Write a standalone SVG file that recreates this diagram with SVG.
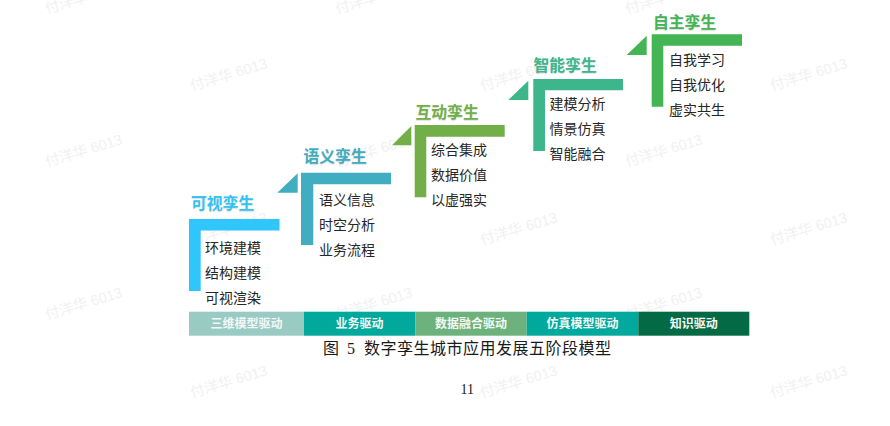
<svg xmlns="http://www.w3.org/2000/svg" width="890" height="426" viewBox="0 0 890 426">
<style>
text{font-family:"Noto Sans CJK SC","Noto Sans",sans-serif}
.wm{font-family:"Liberation Sans","Noto Sans CJK SC",sans-serif;font-size:14.500px;fill:#f1f1f1}
.title{font-size:15.800px;font-weight:700;text-shadow:0 1px 1px rgba(120,120,120,.25)}
.item{font-size:14px;fill:#262626}
.drv{font-size:12px;font-weight:700;fill:#f2f8f5;text-anchor:middle}
.cap{font-size:16px;fill:#1a1a1a}
</style>
<rect width="890" height="426" fill="#fff"/>
<g id="watermarks">
<text class="wm" transform="translate(47,14) rotate(-17)">付洋华 6013</text>
<text class="wm" transform="translate(47,167) rotate(-17)">付洋华 6013</text>
<text class="wm" transform="translate(47,320) rotate(-17)">付洋华 6013</text>
<text class="wm" transform="translate(192,91) rotate(-17)">付洋华 6013</text>
<text class="wm" transform="translate(192,245) rotate(-17)">付洋华 6013</text>
<text class="wm" transform="translate(192,398) rotate(-17)">付洋华 6013</text>
<text class="wm" transform="translate(337,14) rotate(-17)">付洋华 6013</text>
<text class="wm" transform="translate(337,167) rotate(-17)">付洋华 6013</text>
<text class="wm" transform="translate(337,320) rotate(-17)">付洋华 6013</text>
<text class="wm" transform="translate(482,91) rotate(-17)">付洋华 6013</text>
<text class="wm" transform="translate(482,245) rotate(-17)">付洋华 6013</text>
<text class="wm" transform="translate(482,398) rotate(-17)">付洋华 6013</text>
<text class="wm" transform="translate(627,14) rotate(-17)">付洋华 6013</text>
<text class="wm" transform="translate(627,167) rotate(-17)">付洋华 6013</text>
<text class="wm" transform="translate(627,320) rotate(-17)">付洋华 6013</text>
<text class="wm" transform="translate(772,91) rotate(-17)">付洋华 6013</text>
<text class="wm" transform="translate(772,245) rotate(-17)">付洋华 6013</text>
<text class="wm" transform="translate(772,398) rotate(-17)">付洋华 6013</text>
</g>
<g id="connectors"></g>
<g id="stage1">
<path d="M189 219H279.500V230.500H200.700V291H189Z" fill="#2fc6fb"/>
<text class="title" x="191" y="209" fill="#35c3f2">可视孪生</text>
<text class="item" x="205" y="253">环境建模</text>
<text class="item" x="205" y="278">结构建模</text>
<text class="item" x="205" y="303">可视渲染</text>
</g>
<g id="stage2">
<path d="M277.300 192.700L297.700 173.300V192.700Z" fill="#41adc0"/>
<path d="M301 172.700H391V184.300H313.300V245H301Z" fill="#41adc0"/>
<text class="title" x="303.500" y="162" fill="#41adc0">语义孪生</text>
<text class="item" x="319" y="205">语义信息</text>
<text class="item" x="319" y="230">时空分析</text>
<text class="item" x="319" y="255">业务流程</text>
</g>
<g id="stage3">
<path d="M392 145.300L411.300 126V145.300Z" fill="#72af48"/>
<path d="M414.700 125H504.700V136.700H426.300V197.300H414.700Z" fill="#72af48"/>
<text class="title" x="415.500" y="118" fill="#72af48">互动孪生</text>
<text class="item" x="431" y="155">综合集成</text>
<text class="item" x="431" y="180">数据价值</text>
<text class="item" x="431" y="205">以虚强实</text>
</g>
<g id="stage4">
<path d="M508.300 100L528.300 80.700V100Z" fill="#3db68c"/>
<path d="M533.300 79H623V90.300H545V151H533.300Z" fill="#3db68c"/>
<text class="title" x="533.500" y="71" fill="#3db68c">智能孪生</text>
<text class="item" x="549.500" y="109">建模分析</text>
<text class="item" x="549.500" y="134">情景仿真</text>
<text class="item" x="549.500" y="159">智能融合</text>
</g>
<g id="stage5">
<path d="M626.700 55L646.700 35.700V55Z" fill="#43b554"/>
<path d="M651.700 34.300H742V45.700H663.300V106.700H651.700Z" fill="#43b554"/>
<text class="title" x="653" y="27.500" fill="#43b554">自主孪生</text>
<text class="item" x="669" y="64.500">自我学习</text>
<text class="item" x="669" y="89.500">自我优化</text>
<text class="item" x="669" y="114.500">虚实共生</text>
</g>
<g id="drivers">
<g id="driver1"><rect x="189" y="311.700" width="115" height="24" fill="#9acac4"/><text class="drv" x="246.500" y="328">三维模型驱动</text></g>
<g id="driver2"><rect x="304" y="311.700" width="111.300" height="24" fill="#00a99b"/><text class="drv" x="359.500" y="328">业务驱动</text></g>
<g id="driver3"><rect x="415.300" y="311.700" width="111.400" height="24" fill="#6db27c"/><text class="drv" x="471" y="328">数据融合驱动</text></g>
<g id="driver4"><rect x="526.700" y="311.700" width="111.600" height="24" fill="#00a99b"/><text class="drv" x="582.500" y="328">仿真模型驱动</text></g>
<g id="driver5"><rect x="638.300" y="311.700" width="111" height="24" fill="#046a45"/><text class="drv" x="693.800" y="328">知识驱动</text></g>
</g>
<g id="caption">
<text class="cap" x="323" y="354">图</text>
<text class="cap" x="347" y="354" style="font-family:'Liberation Serif',serif">5</text>
<text class="cap" x="364" y="354" letter-spacing="0.500">数字孪生城市应用发展五阶段模型</text>
<text x="460.500" y="394" style="font-family:'Liberation Serif',serif;font-size:14px;fill:#1a1a1a">11</text>
</g>
</svg>
